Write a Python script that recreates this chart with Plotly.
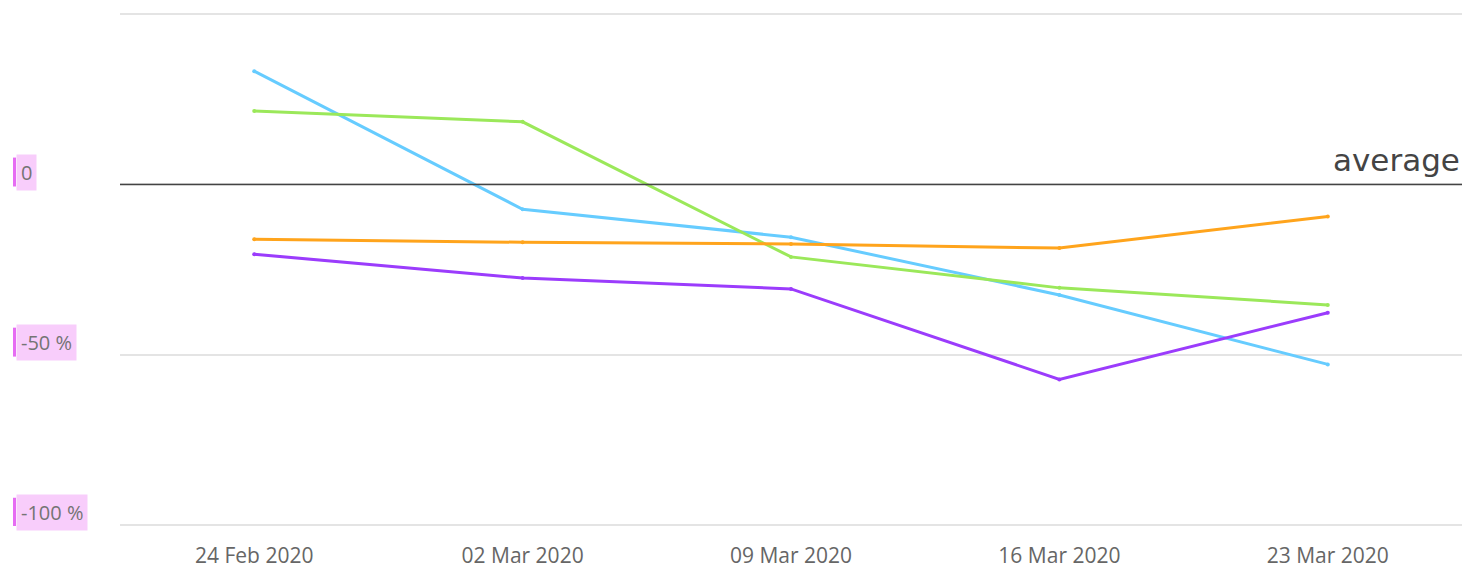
import plotly.graph_objects as go

dates = ["24 Feb 2020", "02 Mar 2020", "09 Mar 2020", "16 Mar 2020", "23 Mar 2020"]
blue = [33.3, -7.3, -15.5, -32.5, -52.9]
green = [21.6, 18.4, -21.3, -30.4, -35.4]
orange = [-16.1, -17.0, -17.5, -18.7, -9.4]
purple = [-20.5, -27.5, -30.7, -57.3, -37.7]

tick_vals = [0, -50, -100]
tick_texts = ["0", "-50 %", "-100 %"]

series = [
    ("blue", blue, "#66ccff"),
    ("green", green, "#9be85a"),
    ("orange", orange, "#ffa41c"),
    ("purple", purple, "#9b3cfc"),
]

fig = go.Figure()
for name, vals, col in series:
    fig.add_trace(go.Scatter(
        x=dates, y=vals, mode="lines+markers", name=name,
        line=dict(color=col, width=3),
        marker=dict(color=col, size=4),
        showlegend=False,
    ))

# zero "average" line
fig.add_shape(type="line", xref="paper", yref="y", x0=0, x1=1, y0=0, y1=0,
              line=dict(color="#444444", width=1.5))
fig.add_annotation(xref="paper", yref="y", x=1, y=0, xanchor="right", yanchor="bottom",
                   text="average", showarrow=False, yshift=4,
                   font=dict(family="DejaVu Sans", size=31, color="#444444"))

plot_w = 1479 - 120 - 17
for v, t in zip(tick_vals, tick_texts):
    fig.add_annotation(xref="paper", yref="y", x=(16 - 120) / plot_w, y=v,
                       xanchor="left", yanchor="middle", yshift=12,
                       text=t, showarrow=False, bgcolor="#f8cdfb", borderpad=4,
                       font=dict(family="Open Sans", size=20, color="#747474"))
    fig.add_shape(type="rect", xref="paper", yref="y",
                  x0=(13 - 120) / plot_w, x1=(16 - 120) / plot_w,
                  y0=v - 0.6, y1=v + 7.9, line=dict(width=0), fillcolor="#e66cf3")

fig.update_layout(
    width=1479, height=569,
    margin=dict(l=120, r=17, t=13, b=43),
    paper_bgcolor="white", plot_bgcolor="white",
    font=dict(family="Open Sans", color="#666666"),
)
fig.update_xaxes(type="category", range=[-0.5, 4.5], showgrid=False, zeroline=False,
                 showline=False, ticks="", ticklabelstandoff=15, automargin=False,
                 tickfont=dict(size=21, color="#666666"))
fig.update_yaxes(range=[-100.4, 50.4], tickvals=[50, 0, -50, -100], showticklabels=False,
                 showgrid=True, gridcolor="#e4e4e4", gridwidth=1.5, zeroline=False,
                 automargin=False)

fig.write_html("out.html", config={"displayModeBar": False},
               post_script="document.body.style.margin='0';")
